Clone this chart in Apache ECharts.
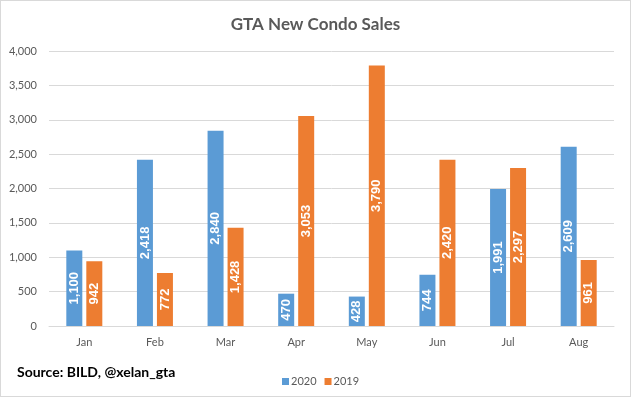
<!DOCTYPE html>
<html>
<head>
<meta charset="utf-8">
<script src="https://cdn.jsdelivr.net/npm/echarts@6/dist/echarts.min.js"></script>
<style>
  html, body { margin: 0; padding: 0; background: #fff; }
  #chart { width: 631px; height: 397px; box-sizing: border-box; border: 1px solid #d9d9d9; }
</style>
</head>
<body>
<div id="chart"></div>
<script>
var months = ['Jan', 'Feb', 'Mar', 'Apr', 'May', 'Jun', 'Jul', 'Aug'];
var sales2020 = [1100, 2418, 2840, 470, 428, 744, 1991, 2609];
var sales2019 = [942, 772, 1428, 3053, 3790, 2420, 2297, 961];

var font = 'Lato, "Open Sans", sans-serif';
function fmt(v) {
  return v.toLocaleString('en-US');
}

var labelStyle = {
  show: true,
  position: 'inside',
  rotate: 90,
  color: '#fff',
  fontWeight: 'bold',
  fontSize: 13,
  fontFamily: '"Liberation Sans", Arial, sans-serif',
  formatter: function (p) { return fmt(p.value); }
};

var chart = echarts.init(document.getElementById('chart'));
chart.setOption({
  animation: false,
  backgroundColor: '#fff',
  color: ['#5b9bd5', '#ed7d31'],
  title: {
    text: 'GTA New Condo Sales',
    left: 'center',
    top: 10,
    textStyle: { fontFamily: font, fontSize: 17, fontWeight: 'bold', color: '#595959' }
  },
  graphic: [{
    type: 'text',
    left: 16,
    top: 364,
    style: { text: 'Source: BILD, @xelan_gta', font: 'bold 14px ' + font, fill: '#000' }
  }],
  legend: {
    data: ['2020', '2019'],
    left: 276,
    top: 370,
    itemWidth: 7,
    itemHeight: 7,
    itemGap: 8,
    icon: 'rect',
    textStyle: { fontFamily: font, fontSize: 11, color: '#595959', padding: [0, 0, 0, -3] }
  },
  grid: { left: 48, right: 16, top: 50, bottom: 70 },
  xAxis: {
    type: 'category',
    data: months,
    axisTick: { show: false },
    axisLine: { lineStyle: { color: '#d9d9d9' } },
    axisLabel: { color: '#595959', fontFamily: font, fontSize: 11, margin: 11 }
  },
  yAxis: {
    type: 'value',
    min: 0,
    max: 4000,
    interval: 500,
    axisLabel: { color: '#595959', fontFamily: font, fontSize: 11, margin: 12, formatter: fmt },
    splitLine: { lineStyle: { color: '#d9d9d9' } }
  },
  series: [
    { name: '2020', type: 'bar', data: sales2020, barWidth: 16, barGap: '25%', label: labelStyle },
    { name: '2019', type: 'bar', data: sales2019, barWidth: 16, label: labelStyle }
  ]
});
</script>
</body>
</html>
